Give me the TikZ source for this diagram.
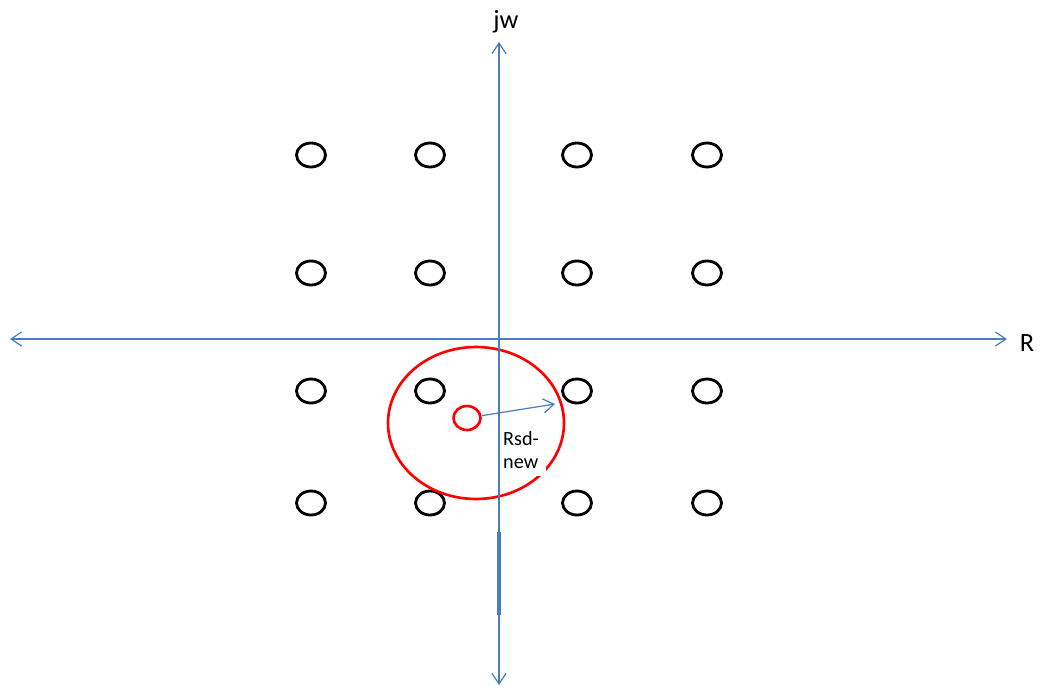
\documentclass[tikz,border=0pt]{standalone}
\usepackage{fontspec}
\setmainfont{Carlito}
\usepackage{tikz}
\usetikzlibrary{shapes.geometric, arrows.meta, positioning}

\definecolor{axisblue}{HTML}{4A7EBB}

\begin{document}
\begin{tikzpicture}[
    x=0.02cm, y=-0.02cm,
    point/.style={ellipse, draw=black, line width=1.6pt, minimum width=0.58cm,
        minimum height=0.48cm, inner sep=0pt},
    axis/.style={draw=axisblue, line width=0.7pt, {Straight Barb[length=6pt,width=8pt]}-{Straight Barb[length=6pt,width=8pt]}},
    axislabel/.style={font=\fontsize{15}{18}\selectfont},
    radius/.style={ellipse, draw=red, line width=1.5pt, inner sep=0pt}
]
\useasboundingbox (0,0) rectangle (1042,687);

% Punti della costellazione
\node[point] (p11) at (311,155) {};
\node[point] (p12) at (430,155) {};
\node[point] (p13) at (577,155) {};
\node[point] (p14) at (707,155) {};

\node[point] (p21) at (311,273) {};
\node[point] (p22) at (430,273) {};
\node[point] (p23) at (577,273) {};
\node[point] (p24) at (707,273) {};

\node[point] (p31) at (311,391) {};
\node[point] (p32) at (430,391) {};
\node[point] (p33) at (577,391) {};
\node[point] (p34) at (707,391) {};

\node[point] (p41) at (311,503) {};
\node[point] (p42) at (430,503) {};
\node[point] (p43) at (577,503) {};
\node[point] (p44) at (707,503) {};

% Sfera di ricerca
\node[radius, minimum width=3.52cm, minimum height=3.04cm] (sphere) at (476,423) {};
\node[radius, minimum width=0.54cm, minimum height=0.48cm] (rx) at (467,418) {};
\node[fill=white, inner sep=4pt, align=left, font=\fontsize{11.5}{13.6}\selectfont] (rsd) at (521,450) {Rsd-\\new};

% Assi
\coordinate (xl) at (10,339);
\coordinate (xr) at (1007,339);
\coordinate (yt) at (499,42);
\coordinate (yb) at (499,685);
\node[axislabel] (re) at (1027,343) {R};
\node[axislabel] (im) at (506,22) {jw};

\draw[axis] (xl) -- (xr);
\draw[axis] (yt) -- (yb);

\coordinate (s1) at (499,532);
\coordinate (s2) at (499,615);
\draw[axisblue, line width=1.8pt] (s1) -- (s2);

% Raggio
\coordinate (tip) at (555,404);
\draw[axisblue, line width=0.7pt, -{Straight Barb[length=6pt,width=8pt]}] (rx) -- (tip);

\end{tikzpicture}
\end{document}
